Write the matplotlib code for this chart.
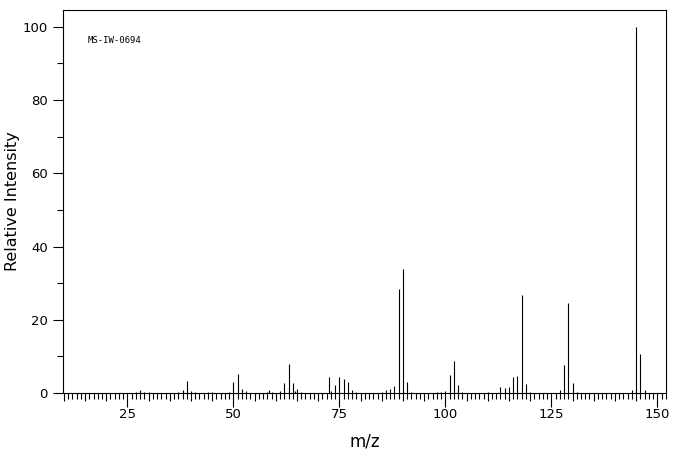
import numpy as np
import matplotlib.pyplot as plt
from matplotlib.ticker import MultipleLocator, FuncFormatter

# peak list
mz = [27, 28, 29, 30, 37, 38, 39, 40, 41, 44, 45, 49, 50, 51, 52, 53,
      58, 58.5, 59, 61, 62, 63, 64, 64.5, 65, 66,
      72.5, 73, 74, 75, 76, 77, 78, 79,
      85, 86, 87, 88, 89, 90, 91, 92,
      98, 99, 100, 101, 102, 103, 104, 110,
      113, 114, 115, 116, 117, 118, 119, 120,
      127, 128, 129, 130, 131, 144, 145, 146, 147]
intensity = [0.3, 0.8, 0.2, 0.2, 0.3, 0.8, 3.3, 0.5, 0.2, 0.3, 0.3, 0.3, 3.0, 5.2, 1.1, 0.5,
             0.3, 0.8, 0.3, 0.5, 2.7, 7.9, 2.7, 0.5, 1.1, 0.3,
             4.4, 0.5, 2.2, 4.4, 3.8, 3.0, 0.8, 0.3,
             0.3, 0.8, 1.1, 1.9, 28.5, 34.0, 3.0, 0.3,
             0.3, 0.3, 0.5, 4.9, 8.7, 2.2, 0.3, 0.3,
             1.6, 1.4, 1.6, 4.4, 4.7, 26.8, 2.5, 0.3,
             0.8, 7.7, 24.6, 2.7, 0.3, 0.8, 100.0, 10.7, 0.8]
sample_id = 'MS-IW-0694'

plt.rcParams.update({'font.size': 9.5, 'font.family': 'DejaVu Sans'})

fig = plt.figure(figsize=(6.76, 4.55), dpi=100)
ax = fig.add_axes([63/676, 62/455, 603/676, 383/455])

ax.vlines(mz, 0, intensity, colors='k', linewidth=0.8)

ax.set_xlim(9.8, 152.05)
ax.set_ylim(0, 104.6)

for s in ax.spines.values():
    s.set_linewidth(0.8)

# x ticks: every 5 as "major" (label only on 25s), every 1 minor
ax.xaxis.set_major_locator(MultipleLocator(5))
ax.xaxis.set_minor_locator(MultipleLocator(1))
ax.xaxis.set_major_formatter(FuncFormatter(lambda v, p: '%d' % v if round(v) % 25 == 0 else ''))
ax.tick_params(axis='x', which='major', length=6, width=0.8, pad=5, direction='out')
ax.tick_params(axis='x', which='minor', length=4, width=0.8, direction='out')
fig.canvas.draw()
for t in ax.xaxis.get_major_ticks():
    if round(t.get_loc()) % 25 == 0:
        t.tick1line.set_markersize(10)

ax.yaxis.set_major_locator(MultipleLocator(20))
ax.yaxis.set_minor_locator(MultipleLocator(10))
ax.tick_params(axis='y', which='major', length=7, width=0.8, pad=4)
ax.tick_params(axis='y', which='minor', length=4, width=0.8)

ax.set_xlabel('m/z', fontsize=12, labelpad=8)
ax.set_ylabel('Relative Intensity', fontsize=11.5, labelpad=2)

ax.text(15.7, 96.2, sample_id, fontsize=6.5, family='DejaVu Sans Mono', va='center', ha='left')

fig.savefig('out.png', dpi=100)
